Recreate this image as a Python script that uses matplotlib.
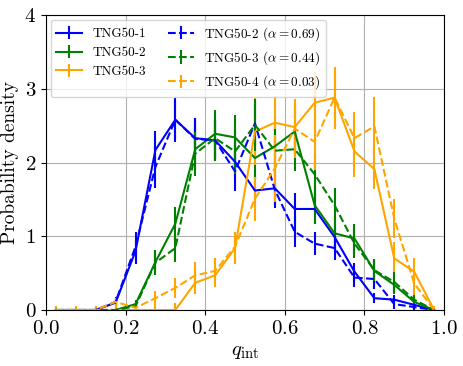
import numpy as np
import matplotlib
matplotlib.use("Agg")
import matplotlib.pyplot as plt

plt.rcParams['font.family'] = 'serif'
plt.rcParams['font.serif'] = ['cmr10', 'DejaVu Serif']
plt.rcParams['mathtext.fontset'] = 'cm'
plt.rcParams['axes.formatter.use_mathtext'] = True

# bin centres in q_int
q_bins = np.arange(0.025, 1.0, 0.05)

tng1 = [0, 0, 0, 0.10, 0.80, 2.17, 2.58, 2.33, 2.30, 2.01, 1.62, 1.65, 1.37, 1.37, 0.99, 0.52, 0.16, 0.14, 0.07, 0]
tng1_err = [0, 0, 0, 0.05, 0.17, 0.26, 0.27, 0.26, 0.26, 0.25, 0.22, 0.22, 0.22, 0.2, 0.17, 0.12, 0.07, 0.06, 0.05, 0]

tng2 = [0, 0, 0, 0, 0.08, 0.65, 1.17, 2.18, 2.39, 2.34, 2.06, 2.22, 2.42, 1.42, 1.04, 0.97, 0.53, 0.34, 0.11, 0]
tng2_err = [0, 0, 0, 0, 0.06, 0.16, 0.22, 0.3, 0.32, 0.31, 0.29, 0.3, 0.32, 0.26, 0.22, 0.2, 0.15, 0.12, 0.07, 0]

tng3 = [0, 0, 0, 0, 0, 0, 0, 0.37, 0.47, 0.84, 2.42, 2.54, 2.48, 2.81, 2.88, 2.15, 1.91, 0.70, 0.52, 0]
tng3_err = [0.06, 0.06, 0.06, 0.06, 0.06, 0.08, 0.1, 0.15, 0.16, 0.22, 0.45, 0.35, 0.38, 0.42, 0.42, 0.35, 0.27, 0.22, 0.18, 0.06]

tng2_rs = [0, 0, 0, 0.11, 0.86, 1.94, 2.58, 2.32, 2.30, 1.88, 2.53, 1.63, 1.06, 0.90, 0.84, 0.44, 0.42, 0.08, 0.04, 0]
tng2_rs_err = [0, 0, 0, 0.06, 0.2, 0.28, 0.3, 0.28, 0.28, 0.27, 0.3, 0.25, 0.2, 0.16, 0.16, 0.13, 0.13, 0.06, 0.04, 0]

tng3_rs = [0, 0, 0, 0, 0.05, 0.64, 0.84, 2.12, 2.33, 2.15, 2.51, 2.16, 2.18, 1.84, 1.42, 0.90, 0.54, 0.38, 0.14, 0]
tng3_rs_err = [0, 0, 0, 0, 0.05, 0.16, 0.19, 0.3, 0.31, 0.3, 0.35, 0.3, 0.3, 0.28, 0.24, 0.2, 0.15, 0.13, 0.08, 0]

tng4_rs = [0, 0, 0, 0.11, 0.03, 0.16, 0.30, 0.47, 0.53, 0.86, 1.51, 1.92, 2.46, 2.28, 2.88, 2.33, 2.49, 1.24, 0.36, 0]
tng4_rs_err = [0, 0, 0, 0.05, 0.03, 0.1, 0.14, 0.18, 0.18, 0.2, 0.3, 0.45, 0.4, 0.38, 0.42, 0.35, 0.4, 0.27, 0.15, 0]

alphas = [0.69, 0.44, 0.03]

fig, ax = plt.subplots(figsize=(4.64, 3.66), dpi=100)
fig.subplots_adjust(left=0.099, right=0.957, top=0.959, bottom=0.153)

kw = dict(lw=1.5, elinewidth=1.5, capsize=0)
ax.errorbar(q_bins, tng1, yerr=tng1_err, color='blue', ls='-', label='TNG50-1', **kw)
ax.errorbar(q_bins, tng2, yerr=tng2_err, color='green', ls='-', label='TNG50-2', **kw)
ax.errorbar(q_bins, tng3, yerr=tng3_err, color='orange', ls='-', label='TNG50-3', **kw)
ax.errorbar(q_bins, tng2_rs, yerr=tng2_rs_err, color='blue', ls='--',
            label=r'TNG50-2 ($\alpha = %.2f$)' % alphas[0], **kw)
ax.errorbar(q_bins, tng3_rs, yerr=tng3_rs_err, color='green', ls='--',
            label=r'TNG50-3 ($\alpha = %.2f$)' % alphas[1], **kw)
ax.errorbar(q_bins, tng4_rs, yerr=tng4_rs_err, color='orange', ls='--',
            label=r'TNG50-4 ($\alpha = %.2f$)' % alphas[2], **kw)

ax.set_xlim(0, 1)
ax.set_ylim(0, 4)
ax.set_xticks([0, 0.2, 0.4, 0.6, 0.8, 1.0])
ax.set_yticks([0, 1, 2, 3, 4])
ax.tick_params(labelsize=15)
ax.grid(True, color='#b0b0b0', lw=0.8)
ax.set_axisbelow(True)
ax.set_xlabel(r'$q_{\rm int}$', fontsize=15)
ax.set_ylabel('Probability density', fontsize=14)
ax.legend(ncol=2, loc='upper left', fontsize=9.5, handlelength=2.0,
          columnspacing=1.6, borderaxespad=0.35)

fig.savefig('out.png', dpi=100)
